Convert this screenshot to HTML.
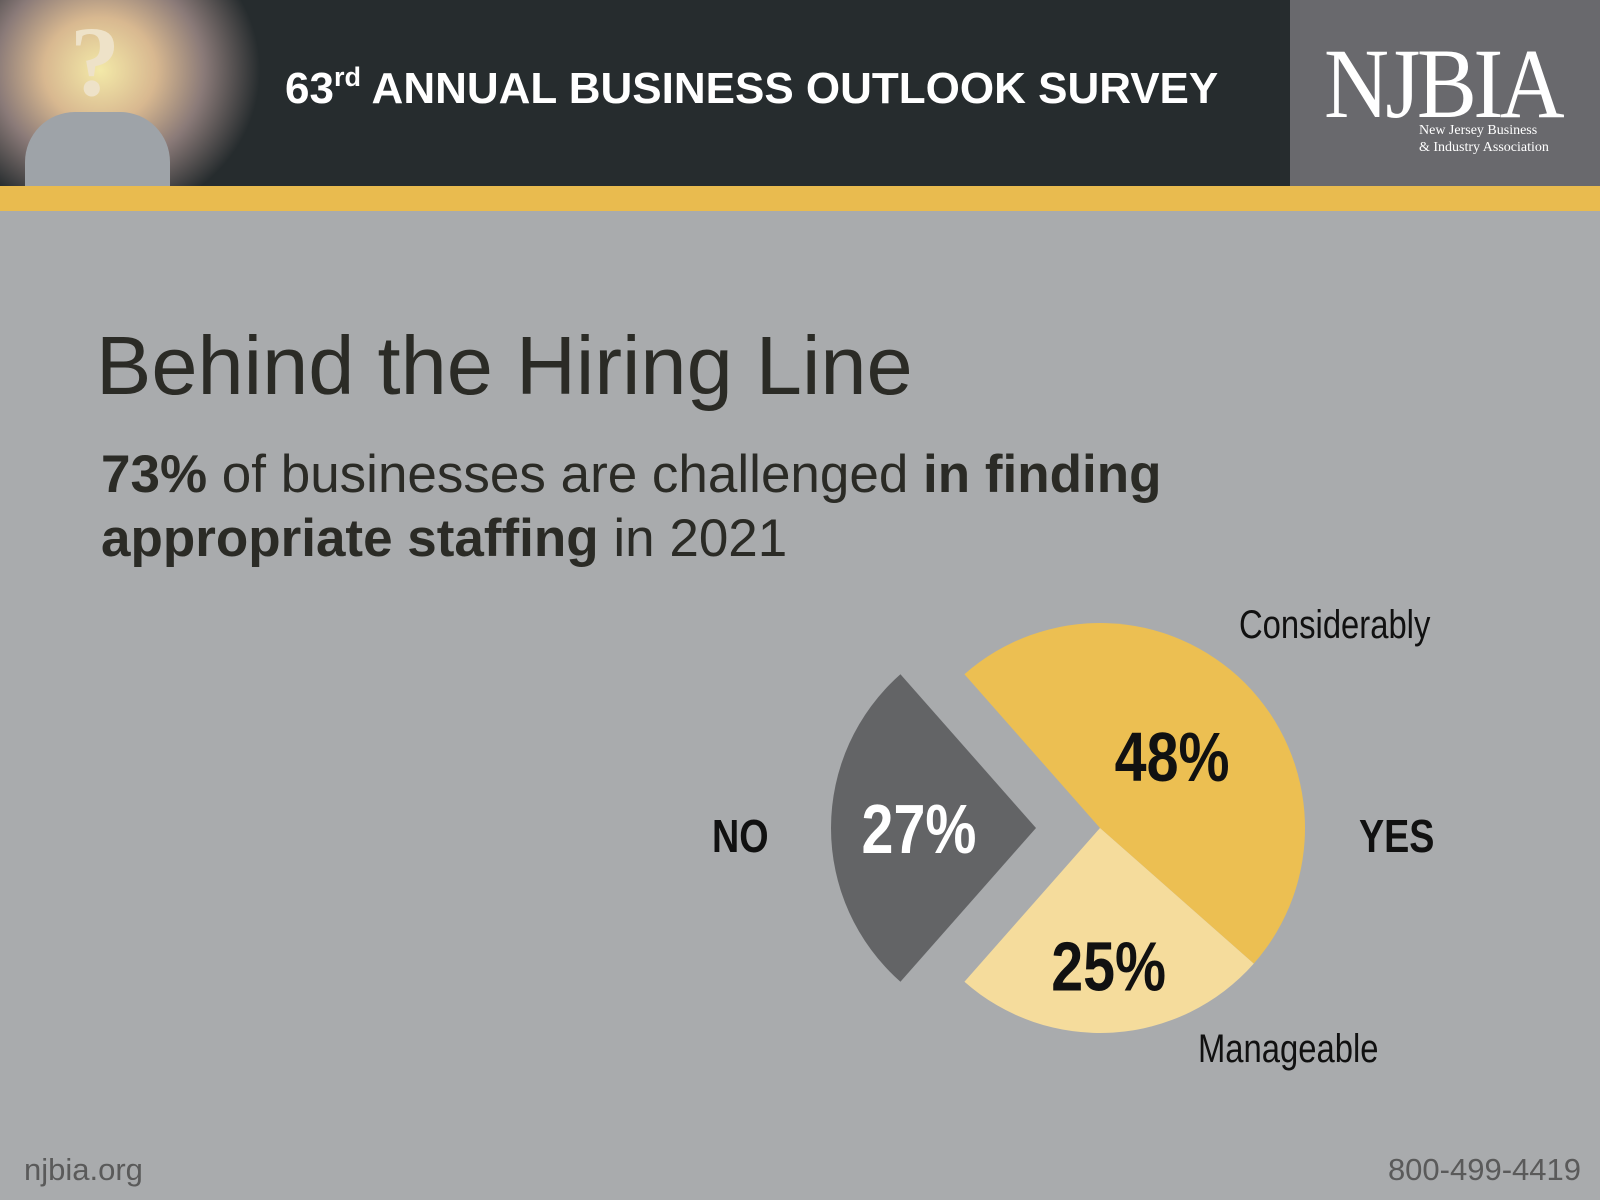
<!DOCTYPE html>
<html><head><meta charset="utf-8">
<style>
*{margin:0;padding:0;box-sizing:border-box}
body{width:1600px;height:1200px;background:#a9abad;position:relative;overflow:hidden;font-family:"Liberation Sans",sans-serif}
.abs{position:absolute;white-space:nowrap}
</style></head><body>
<div class="abs" style="left:0;top:0;width:1290px;height:186px;background:#262c2e"></div>
<div class="abs" style="left:0;top:0;width:330px;height:186px;background:radial-gradient(ellipse 160px 150px at 100px 70px,#f3e9a8 0%,#d8b890 35%,#8a7a78 65%,#262c2e 100%)">
  <div class="abs" style="left:25px;top:112px;width:145px;height:74px;background:#9ea3a8;border-radius:50px 50px 0 0"></div>
  <div class="abs" style="left:70px;top:4px;font:bold 100px 'Liberation Serif',serif;color:#eee2c8">?</div>
</div>
<div class="abs" style="left:285px;top:62px;font-weight:bold;font-size:44px;color:#fff">63<sup style="font-size:27px;vertical-align:17px">rd</sup> ANNUAL BUSINESS OUTLOOK SURVEY</div>
<div class="abs" style="left:1290px;top:0;width:310px;height:186px;background:#69696d">
  <div class="abs" style="left:34px;top:26px;font:100px 'Liberation Serif',serif;color:#fff;transform:scaleX(0.9);transform-origin:left top;letter-spacing:-4px">NJBIA</div>
  <div class="abs" style="left:129px;top:122px;font:14px/17px 'Liberation Serif',serif;color:#fff">New Jersey Business<br>&amp; Industry Association</div>
</div>
<div class="abs" style="left:0;top:186px;width:1600px;height:25px;background:#e9bb4f"></div>

<div class="abs" style="left:96px;top:318px;font-size:83px;color:#2b2b26">Behind the Hiring Line</div>
<div class="abs" style="left:101px;top:443px;font-size:53px;line-height:64px;color:#2b2b26"><b>73%</b> of businesses are challenged <b>in finding</b><br><b>appropriate staffing</b> in 2021</div>

<svg class="abs" style="left:0;top:0" width="1600" height="1200" id="pie"></svg>

<div class="abs" style="left:24px;top:1152px;font-size:31px;color:#5a5a5a">njbia.org</div>
<div class="abs" style="right:19px;top:1152px;font-size:31px;color:#5a5a5a">800-499-4419</div>

<script>
const categories = ["No", "Considerably", "Manageable"];
const values = [27, 48, 25];
const valueLabels = ["27%", "48%", "25%"];
const colors = ["#636466", "#ecbf52", "#f5dc9c"];
const textColors = ["#ffffff", "#111111", "#111111"];

const svg = document.getElementById('pie');
const NS = 'http://www.w3.org/2000/svg';
const cx = 1100, cy = 828, r = 205;
const total = values.reduce((a,b)=>a+b,0);
const toAng = v => v / total * 2 * Math.PI;
function labelRadius(i){ return i === 0 ? 117 : (i === 1 ? 102 : 138); }
let start = Math.PI - toAng(values[0]) / 2;
values.forEach((v, i) => {
  const a0 = start, a1 = start + toAng(v);
  start = a1;
  const mid = (a0 + a1) / 2;
  const off = i === 0 ? 64 : 0;
  const ox = cx + Math.cos(mid) * off, oy = cy + Math.sin(mid) * off;
  const large = (a1 - a0) > Math.PI ? 1 : 0;
  const p = document.createElementNS(NS, 'path');
  p.setAttribute('d', `M${ox},${oy} L${ox + r*Math.cos(a0)},${oy + r*Math.sin(a0)} A${r},${r} 0 ${large} 1 ${ox + r*Math.cos(a1)},${oy + r*Math.sin(a1)} Z`);
  p.setAttribute('fill', colors[i]);
  
  
  svg.appendChild(p);
  const lr = labelRadius(i);
  const t = document.createElementNS(NS, 'text');
  const tx = ox + Math.cos(mid) * lr, ty = oy + Math.sin(mid) * lr + 25;
  t.setAttribute('x', tx);
  t.setAttribute('y', ty);
  t.setAttribute('text-anchor', 'middle');
  t.setAttribute('font-family', 'Liberation Sans, sans-serif');
  t.setAttribute('font-weight', 'bold');
  t.setAttribute('font-size', '70');
  t.setAttribute('fill', textColors[i]);
  t.setAttribute('transform', `translate(${tx},0) scale(0.82,1) translate(${-tx},0)`);
  t.textContent = valueLabels[i];
  
  
  svg.appendChild(t);
});
function addLabel(txt, x, y, size, bold, name) {
  const t = document.createElementNS(NS, 'text');
  t.setAttribute('x', x); t.setAttribute('y', y);
  t.setAttribute('font-family', 'Liberation Sans, sans-serif');
  t.setAttribute('font-size', size);
  if (bold) t.setAttribute('font-weight', 'bold');
  t.setAttribute('fill', '#111');
  t.setAttribute('transform', `translate(${x},0) scale(0.82,1) translate(${-x},0)`);
  t.textContent = txt;
  
  
  svg.appendChild(t);
}
addLabel('Considerably', 1239, 638, 40, false, 'label-considerably');
addLabel('Manageable', 1198, 1062, 40, false, 'label-manageable');
addLabel('NO', 712, 852, 46, true, 'label-no');
addLabel('YES', 1359, 852, 46, true, 'label-yes');
</script>
</body></html>
